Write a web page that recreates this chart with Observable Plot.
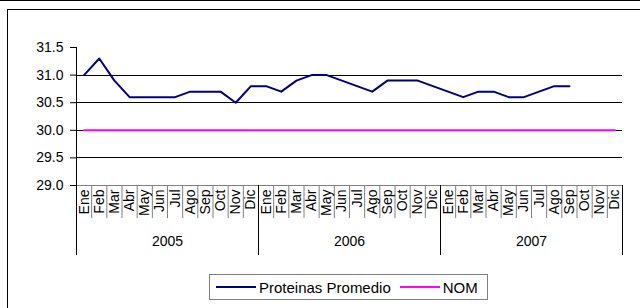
<!DOCTYPE html>
<html>
<head>
<meta charset="utf-8">
<script src="https://cdn.jsdelivr.net/npm/d3@7"></script>
<script src="https://cdn.jsdelivr.net/npm/@observablehq/plot@0.6"></script>
<style>
  html, body { margin: 0; padding: 0; background: #fff; }
  #wrap { position: relative; width: 640px; height: 308px; overflow: hidden; font-family: "Liberation Sans", Arial, sans-serif; }
  #topline { position: absolute; left: 0; top: 0; width: 640px; height: 1px; background: #000; }
  #box { position: absolute; left: 7px; top: 9px; width: 700px; height: 400px; border: 1px solid #000; }
  #chart { position: absolute; left: 0; top: 0; }
  #legend { position: absolute; left: 209px; top: 274px; width: 277px; height: 24px; border: 1px solid #808080; background: #fff;
            display: flex; align-items: center; font-size: 15px; color: #000; white-space: nowrap; }
  .sw { display: inline-block; width: 40px; height: 2px; margin-left: 6px; margin-right: 3px; }
</style>
</head>
<body>
<div id="wrap">
  <div id="topline"></div>
  <div id="box"></div>
  <div id="chart"></div>
  <div id="legend">
    <span class="sw" style="background:#000080"></span><span>Proteinas Promedio</span>
    <span class="sw" style="background:#ff00ff; margin-left:9px"></span><span>NOM</span>
  </div>
</div>
<script>
const months = ["Ene","Feb","Mar","Abr","May","Jun","Jul","Ago","Sep","Oct","Nov","Dic"];
const years = ["2005","2006","2007"];
const proteinas = [
  31.0, 31.3, 30.9, 30.6, 30.6, 30.6, 30.6, 30.7, 30.7, 30.7, 30.5, 30.8,
  30.8, 30.7, 30.9, 31.0, 31.0, 30.9, 30.8, 30.7, 30.9, 30.9, 30.9, 30.8,
  30.7, 30.6, 30.7, 30.7, 30.6, 30.6, 30.7, 30.8, 30.8
];
const nom = [
  30.0, 30.0, 30.0, 30.0, 30.0, 30.0, 30.0, 30.0, 30.0, 30.0, 30.0, 30.0,
  30.0, 30.0, 30.0, 30.0, 30.0, 30.0, 30.0, 30.0, 30.0, 30.0, 30.0, 30.0,
  30.0, 30.0, 30.0, 30.0, 30.0, 30.0, 30.0, 30.0, 30.0, 30.0, 30.0, 30.0
];
const yTicks = [29.0, 29.5, 30.0, 30.5, 31.0, 31.5];
const gridValues = [29.5, 30.0, 30.5, 31.0];

const nCat = years.length * months.length;
const cats = d3.range(nCat);
const protData = proteinas.map((v, i) => ({i, v}));
const nomData = nom.map((v, i) => ({i, v}));
const monthBounds = d3.range(1, nCat).filter(i => i % 12 !== 0).map(i => i - 0.5);
const yearBounds = d3.range(0, years.length + 1).map(k => k * 12 - 0.5);
const yearCenters = years.map((y, k) => k * 12 + 5.5);

const chart = Plot.plot({
  width: 640,
  height: 272,
  marginLeft: 76,
  marginRight: 18,
  marginTop: 47,
  marginBottom: 87,
  style: { fontFamily: "Liberation Sans, Arial, sans-serif", background: "transparent", color: "#000" },
  x: { type: "linear", domain: [-0.5, nCat - 0.5], label: null },
  y: { domain: [29, 31.5], label: null },
  marks: [
    Plot.ruleY(gridValues, { stroke: "#000", strokeWidth: 1, shapeRendering: "crispEdges" }),
    Plot.ruleY([29], { stroke: "#808080", strokeWidth: 1, shapeRendering: "crispEdges" }),
    Plot.ruleX([-0.5], { stroke: "#000", strokeWidth: 1, shapeRendering: "crispEdges" }),
    Plot.axisY(yTicks, { tickSize: 6, tickPadding: 7, fontSize: 14, tickFormat: d3.format(".1f"), label: null, stroke: "#000" }),
    Plot.axisX(monthBounds, { tickSize: 33, tickFormat: () => "", label: null, stroke: "#808080" }),
    Plot.axisX(yearBounds, { tickSize: 70, tickFormat: () => "", label: null, stroke: "#000" }),
    Plot.axisX(cats, { tickSize: 0, tickPadding: 4, tickRotate: -90, fontSize: 14, tickFormat: i => months[i % 12], label: null }),
    Plot.axisX(yearCenters, { tickSize: 0, tickPadding: 51, fontSize: 14, tickFormat: (d, k) => years[k], label: null }),
    Plot.line(nomData, { x: "i", y: "v", stroke: "#ff00ff", strokeWidth: 2 }),
    Plot.line(protData, { x: "i", y: "v", stroke: "#000080", strokeWidth: 2 })
  ]
});
document.getElementById("chart").appendChild(chart);
</script>
</body>
</html>
